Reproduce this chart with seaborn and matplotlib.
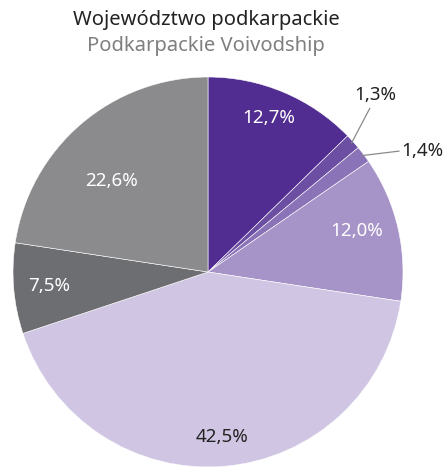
import numpy as np
import matplotlib
matplotlib.use("Agg")
import matplotlib.pyplot as plt
import seaborn as sns

# Share of each category (percent), clockwise from 12 o'clock
shares = [12.7, 1.3, 1.4, 12.0, 42.5, 7.5, 22.6]
labels = ["12,7%", "1,3%", "1,4%", "12,0%", "42,5%", "7,5%", "22,6%"]
colors = ["#522d91", "#6c4ea3", "#8a73b6", "#a693c8", "#d0c6e3", "#6d6e72", "#8b8b8e"]
text_colors = ["white", "#222222", "#222222", "white", "#222222", "white", "white"]
# label placement inside slices: (radius fraction, angle nudge in degrees)
inside_place = {0: (0.85, 1.5), 3: (0.79, 2.5), 4: (0.85, 0.0), 5: (0.82, 0.0), 6: (0.68, 6.0)}
# thin slices get labels outside with a leader line: (text x, text y, line end x, line end y)
outside_place = {1: (0.86, 0.91, 0.83, 0.84), 2: (1.10, 0.62, 0.98, 0.62)}

sns.set_theme(style="white")
plt.rcParams["font.family"] = ["Noto Sans", "DejaVu Sans"]

W, H = 446, 470
fig = plt.figure(figsize=(W / 100, H / 100), dpi=100)
cx, cy, r = 208, 272, 195
ax = fig.add_axes([(cx - r) / W, (H - cy - r) / H, 2 * r / W, 2 * r / H])

wedges, _ = ax.pie(shares, colors=colors, startangle=90, counterclock=False,
                   radius=1.0, wedgeprops=dict(edgecolor="white", linewidth=0.4))
ax.set_xlim(-1, 1)
ax.set_ylim(-1, 1)
ax.set_aspect("equal")
ax.axis("off")

for i, w in enumerate(wedges):
    mid = (w.theta1 + w.theta2) / 2
    if i in outside_place:
        tx, ty, lx, ly = outside_place[i]
        m = np.deg2rad(mid)
        ax.plot([np.cos(m) * 0.99, lx], [np.sin(m) * 0.99, ly], color="#8a8a8a", lw=0.9,
                clip_on=False)
        ax.text(tx, ty, labels[i], ha="center", va="center", fontsize=13.5,
                color=text_colors[i])
    else:
        rr, nudge = inside_place[i]
        a = np.deg2rad(mid + nudge)
        ax.text(rr * np.cos(a), rr * np.sin(a), labels[i], ha="center", va="center",
                fontsize=13.5, color=text_colors[i])

fig.text(206 / W, 1 - 20 / H, "Województwo podkarpackie", ha="center", va="center",
         fontsize=14.5, color="#222222")
fig.text(206 / W, 1 - 46 / H, "Podkarpackie Voivodship", ha="center", va="center",
         fontsize=14.5, color="#7f7f7f")

fig.savefig("out.png", dpi=100)
